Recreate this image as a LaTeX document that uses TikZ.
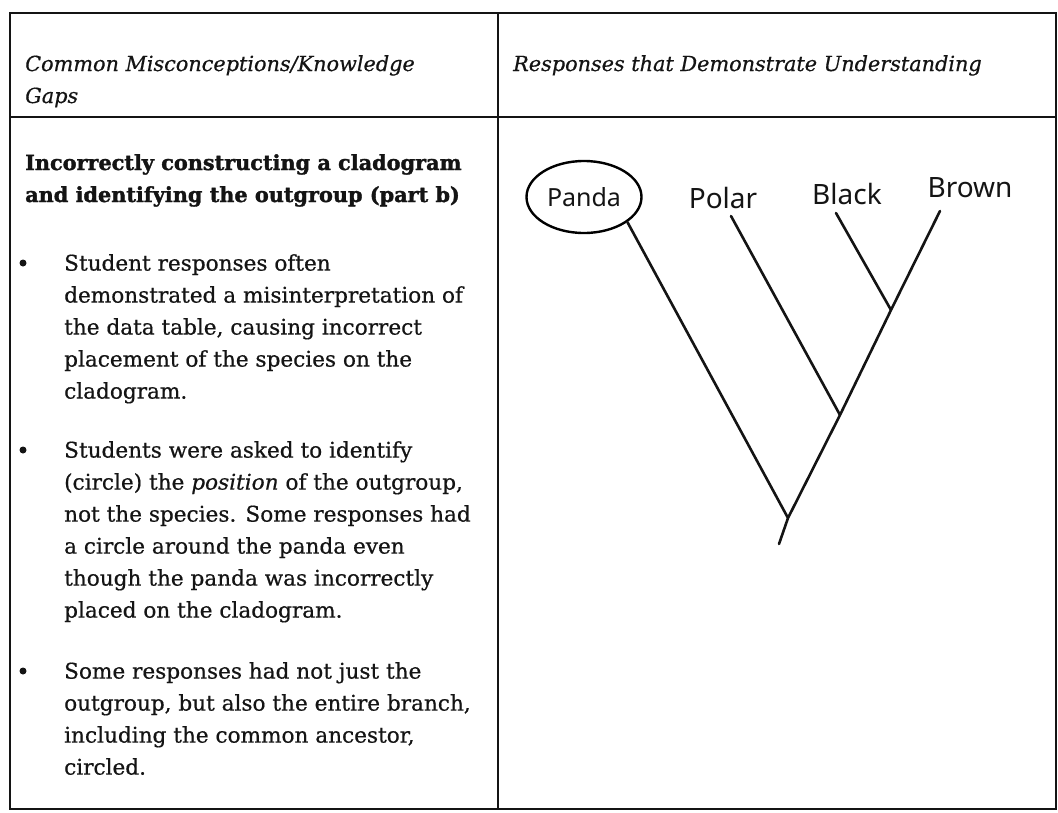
\documentclass[tikz,border=0pt]{standalone}
\usepackage{fontspec}
\setmainfont{DejaVu Serif}[FakeBold=0.6, BoldFeatures={FakeBold=1.6}]
\newfontfamily\handfont{Noto Sans}
\usepackage{xcolor}
\definecolor{inkdark}{HTML}{141414}
\usetikzlibrary{shapes.geometric, positioning}
\newcommand{\gapitem}[3]{% name, y of first baseline, lines
  \node[dot] (#1dot) at (23,#2-7) {};
  \node[body] (#1) at (64,#2-16) {#3};
}

\begin{document}
\begin{tikzpicture}[x=1pt, y=-1pt,
    body/.style={anchor=north west, inner sep=0pt, align=left, text=inkdark,
                 font=\fontsize{21.6}{32}\selectfont},
    head/.style={body, font=\fontsize{20.8}{32}\selectfont\itshape},
    dot/.style={circle, fill=inkdark, inner sep=0pt, minimum size=7pt},
    hand/.style={inner sep=0pt, text=inkdark, font=\handfont\fontsize{28}{30}\selectfont},
    rule/.style={inkdark, line width=1.8pt},
    branch/.style={inkdark, line width=2.6pt, line cap=round}]
  \useasboundingbox (0,0) rectangle (1058,812);

  % table frame
  \draw[rule] (10,13) rectangle (1056,809);
  \draw[rule] (10,117) -- (1056,117);
  \draw[rule] (498,13) -- (498,809);

  % header row
  \node[head] (gaps) at (25,55) {Common Misconceptions/Knowledge\\Gaps};
  \node[head] (resp) at (513,55) {Responses that Demonstrate Understanding};

  % left column
  \node[body, font=\fontsize{20.8}{32}\selectfont\bfseries] (topic) at (25,154)
    {Incorrectly constructing a cladogram\\and identifying the outgroup (part b)};
  \gapitem{itemA}{270}{Student responses often\\demonstrated a misinterpretation of\\the data table, causing incorrect\\placement of the species on the\\cladogram.}
  \gapitem{itemB}{457}{Students were asked to identify\\(circle) the \textit{position} of the outgroup,\\not the species. Some responses had\\a circle around the panda even\\though the panda was incorrectly\\placed on the cladogram.}
  \gapitem{itemC}{678}{Some responses had not just the\\outgroup, but also the entire branch,\\including the common ancestor,\\circled.}

  % cladogram
  \node[hand, draw, ellipse, line width=2.4pt, minimum width=115pt, minimum height=72pt]
    (panda) at (584,197) {\fontsize{25}{30}\selectfont Panda};
  \node[hand] (polar) at (723,198) {Polar};
  \node[hand] (black) at (847,194) {Black};
  \node[hand] (brown) at (970,188) {Brown};

  \coordinate (root)   at (779,544);
  \coordinate (jpanda) at (788,518);
  \coordinate (jpolar) at (840,415);
  \coordinate (jblack) at (891,310);
  \coordinate (tpolar) at (731,216);
  \coordinate (tblack) at (836,213);
  \coordinate (tbrown) at (940,211);

  \draw[branch] (root) -- (jpanda) -- (jpolar) -- (jblack) -- (tbrown);
  \draw[branch] (panda.-30) -- (jpanda);
  \draw[branch] (tpolar) -- (jpolar);
  \draw[branch] (tblack) -- (jblack);
\end{tikzpicture}
\end{document}
